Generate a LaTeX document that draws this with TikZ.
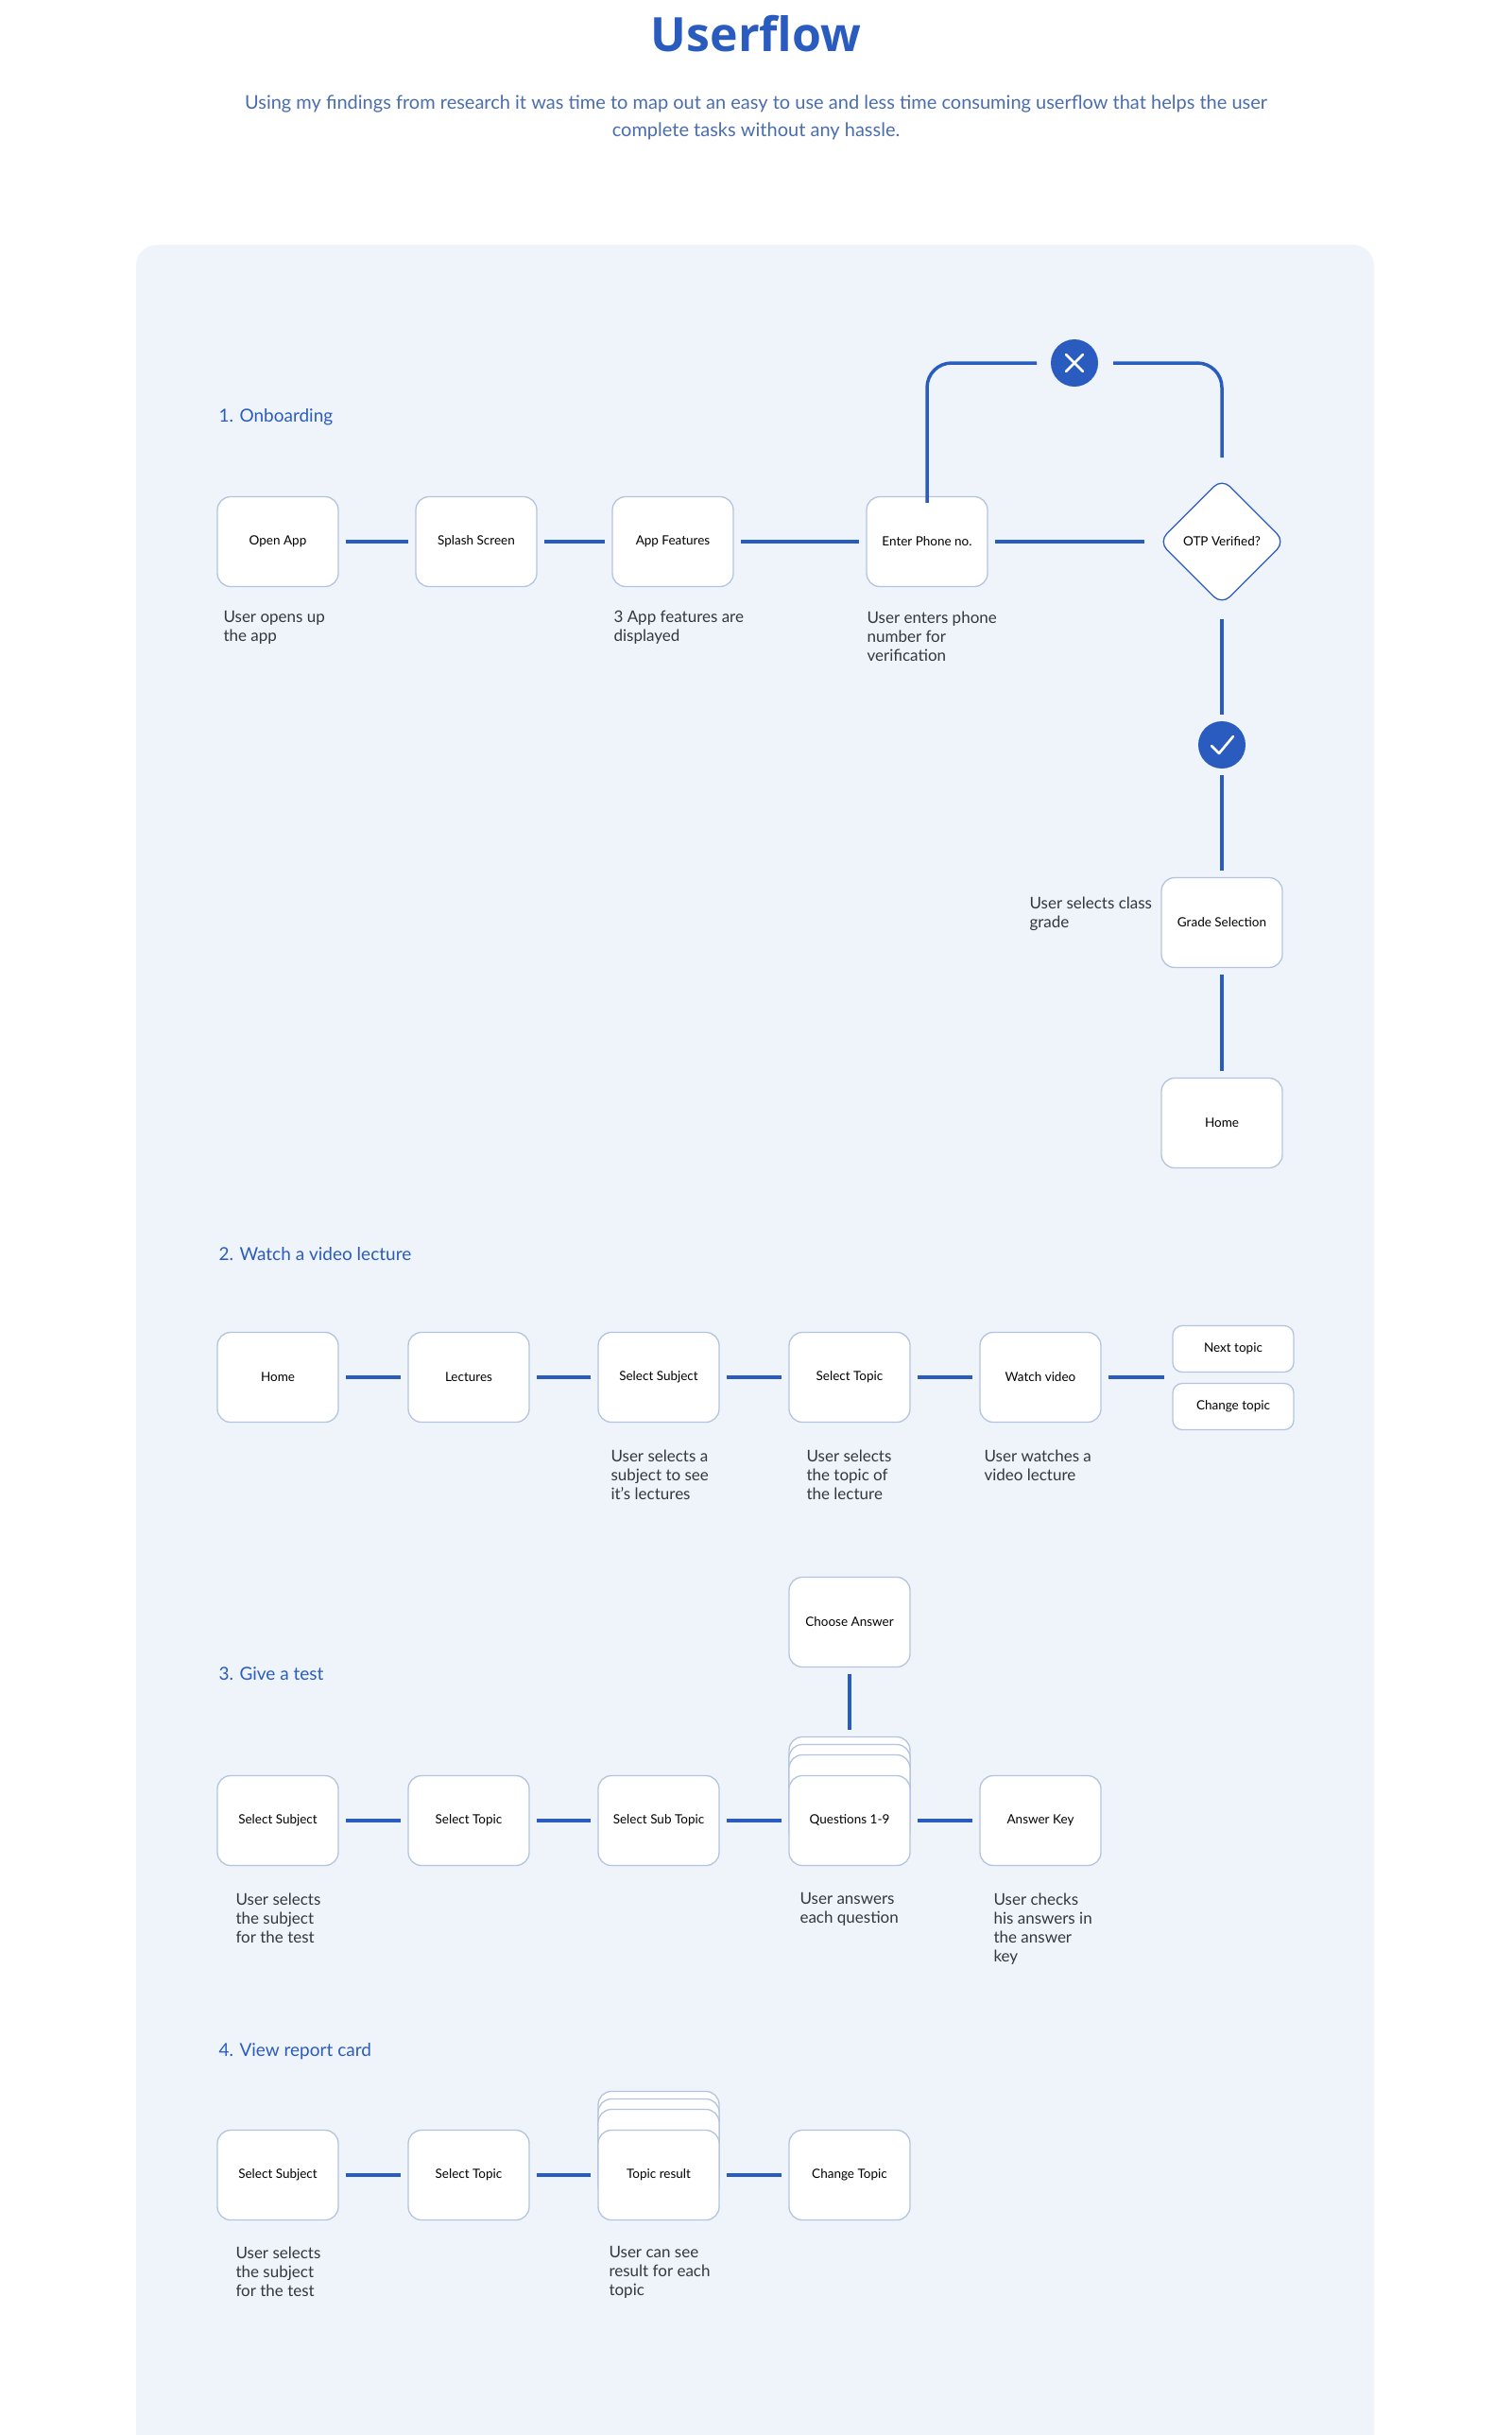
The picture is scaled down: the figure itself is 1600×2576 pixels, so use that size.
\documentclass[tikz,border=0pt]{standalone}
\usepackage{fontspec}
\setmainfont{Lato}
\newfontfamily\titlefont{Open Sans}
\usetikzlibrary{shapes.geometric}
\definecolor{bl}{HTML}{2A5CBF}
\definecolor{bd}{HTML}{B4C4DE}
\definecolor{pan}{HTML}{EFF4FB}
\definecolor{tx}{HTML}{333740}
\definecolor{sub}{HTML}{4A6DB0}
\begin{document}
\begin{tikzpicture}[x=1pt,y=-1pt,
 box/.style={draw=bd,line width=1.3pt,fill=white,rounded corners=14pt,minimum width=128pt,minimum height=95pt,font=\fontsize{13.5}{15}\selectfont,text=black},
 sbox/.style={box,minimum height=49pt,rounded corners=10pt},
 ln/.style={draw=bl,line width=3.5pt,shorten >=7pt,shorten <=7pt},
 captxt/.style={anchor=north west,align=left,font=\fontsize{17}{20}\selectfont,text=tx},
 sec/.style={anchor=west,font=\fontsize{19}{22}\selectfont,text=bl},
 circ/.style={circle,fill=bl,minimum size=50pt,inner sep=0pt}]
\useasboundingbox (0,0) rectangle (1600,2576);
\fill[white] (0,0) rectangle (1600,2576);
\fill[pan,rounded corners=22pt] (144,259) rectangle (1454,2600);
\node[font=\titlefont\bfseries\fontsize{50}{56}\selectfont,text=bl] (title) at (800,36) {Userflow};
\node[align=center,font=\fontsize{20}{29}\selectfont,text=sub] (subt) at (800,124) {Using my findings from research it was time to map out an easy to use and less time consuming userflow that helps the user\\complete tasks without any hassle.};
% 1
\node[sec] (s1) at (228,441) {1. Onboarding};
\node[box] (a1) at (294,573) {Open App};
\node[box] (a2) at (504,573) {Splash Screen};
\node[box] (a3) at (712,573) {App Features};
\node[box] (a4) at (981,573) {Enter Phone no.};
\node[diamond,draw=bl,line width=1.3pt,fill=white,rounded corners=12pt,minimum width=134pt,minimum height=134pt,inner sep=0pt,font=\fontsize{13.5}{15}\selectfont] (otp) at (1293,573) {OTP Verified?};
\node[circ] (xc) at (1137,384) {};
\draw[white,line width=2.6pt,line cap=round] (1128,375) -- (1146,393) (1146,375) -- (1128,393);
\node[circ] (ck) at (1293,788) {};
\draw[white,line width=2.6pt,line cap=round,line join=round] (1282,789) -- (1290,797) -- (1305,779);
\node[box] (gs) at (1293,976) {Grade Selection};
\node[box] (h1) at (1293,1188) {Home};
\draw[ln] (a1) -- (a2);
\draw[ln] (a2) -- (a3);
\draw[ln] (a3) -- (a4);
\draw[ln,shorten >=14pt] (a4) -- (otp);
\draw[draw=bl,line width=3.5pt,rounded corners=26pt] ([yshift=-7pt]a4.north) -- (981,384) -- (1097,384);
\draw[draw=bl,line width=3.5pt,rounded corners=26pt] (1178,384) -- (1293,384) -- (1293,484);
\draw[ln,shorten <=14pt] (otp) -- (ck);
\draw[ln] (ck) -- (gs);
\draw[ln] (gs) -- (h1);
\node[captxt] (c1) at (233,643) {User opens up\\the app};
\node[captxt] (c2) at (646,643) {3 App features are\\displayed};
\node[captxt] (c3) at (914,643) {User enters phone\\number for\\verification};
\node[captxt] (c4) at (1086,945) {User selects class\\grade};
% 2
\node[sec] (s2) at (228,1327) {2. Watch a video lecture};
\node[box] (b1) at (294,1457) {Home};
\node[box] (b2) at (496,1457) {Lectures};
\node[box] (b3) at (697,1457) {Select Subject};
\node[box] (b4) at (899,1457) {Select Topic};
\node[box] (b5) at (1101,1457) {Watch video};
\node[sbox] (b6) at (1305,1427) {Next topic};
\node[sbox] (b7) at (1305,1488) {Change topic};
\coordinate (b67) at (1240,1457);
\draw[ln] (b1) -- (b2);
\draw[ln] (b2) -- (b3);
\draw[ln] (b3) -- (b4);
\draw[ln] (b4) -- (b5);
\draw[ln,shorten >=8pt] (b5) -- (b67);
\node[captxt] (d1) at (643,1530) {User selects a\\subject to see\\it's lectures};
\node[captxt] (d2) at (850,1530) {User selects\\the topic of\\the lecture};
\node[captxt] (d3) at (1038,1530) {User watches a\\video lecture};
% 3
\node[sec] (s3) at (228,1771) {3. Give a test};
\node[box] (ca) at (899,1716) {Choose Answer};
\node[box] (e1) at (294,1926) {Select Subject};
\node[box] (e2) at (496,1926) {Select Topic};
\node[box] (e3) at (697,1926) {Select Sub Topic};
\node[box] (q3) at (899,1885) {};
\node[box] (q2) at (899,1893) {};
\node[box] (q1) at (899,1904) {};
\node[box] (e4) at (899,1926) {Questions 1-9};
\node[box] (e5) at (1101,1926) {Answer Key};
\draw[ln] (e1) -- (e2);
\draw[ln] (e2) -- (e3);
\draw[ln] (e3) -- (e4);
\draw[ln] (e4) -- (e5);
\draw[ln] (ca) -- (q3);
\node[captxt] (f1) at (246,1999) {User selects\\the subject\\for the test};
\node[captxt] (f2) at (843,1999) {User answers\\each question};
\node[captxt] (f3) at (1048,1999) {User checks\\his answers in\\the answer\\key};
% 4
\node[sec] (s4) at (228,2170) {4. View report card};
\node[box] (g1) at (294,2301) {Select Subject};
\node[box] (g2) at (496,2301) {Select Topic};
\node[box] (t3) at (697,2260) {};
\node[box] (t2) at (697,2268) {};
\node[box] (t1) at (697,2279) {};
\node[box] (g3) at (697,2301) {Topic result};
\node[box] (g4) at (899,2301) {Change Topic};
\draw[ln] (g1) -- (g2);
\draw[ln] (g2) -- (g3);
\draw[ln] (g3) -- (g4);
\node[captxt] (h4) at (246,2373) {User selects\\the subject\\for the test};
\node[captxt] (h5) at (641,2373) {User can see\\result for each\\topic};
\end{tikzpicture}
\end{document}
